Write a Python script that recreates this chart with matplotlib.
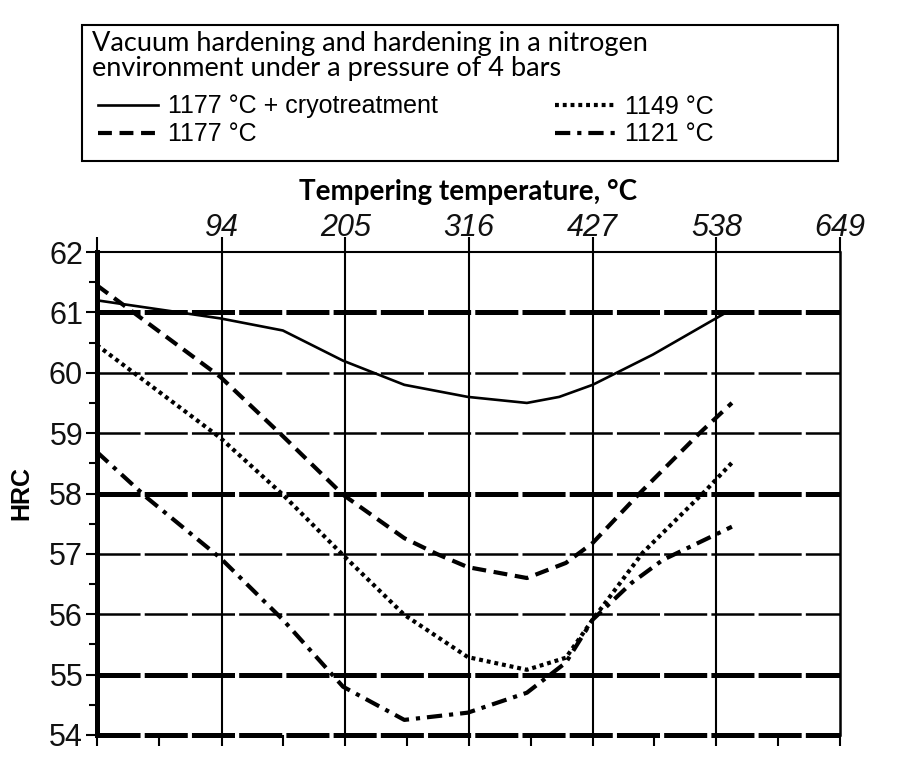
import matplotlib
matplotlib.use("Agg")
import matplotlib.pyplot as plt
from matplotlib import font_manager
from matplotlib.lines import Line2D
from matplotlib.patches import Rectangle

# data (temperature in °C, hardness in HRC)
temp_cryo = [-18, 93, 149, 203, 258, 315, 368, 397, 427, 481, 547]
hrc_cryo = [61.2, 60.9, 60.7, 60.2, 59.8, 59.6, 59.5, 59.6, 59.8, 60.3, 61.0]

temp_1177 = [-18, 93, 149, 203, 258, 287, 315, 368, 403, 427, 469, 523, 552]
hrc_1177 = [61.45, 59.93, 58.95, 57.98, 57.26, 57.0, 56.78, 56.6, 56.85, 57.18, 58.0, 59.0, 59.5]

temp_1149 = [-18, 93, 149, 203, 258, 315, 368, 403, 427, 472, 529, 552]
hrc_1149 = [60.46, 58.92, 57.98, 56.98, 55.99, 55.29, 55.08, 55.28, 55.91, 57.02, 58.06, 58.51]

temp_1121 = [-18, 27, 93, 149, 203, 258, 315, 368, 403, 427, 462, 490, 552]
hrc_1121 = [58.69, 57.93, 56.93, 55.91, 54.80, 54.25, 54.37, 54.70, 55.20, 55.91, 56.52, 56.9, 57.45]

x_ticks = [94, 205, 316, 427, 538, 649]
y_ticks = [54, 55, 56, 57, 58, 59, 60, 61, 62]
x_min = -17.8

labels = ["1177 °C + cryotreatment", "1177 °C", "1149 °C", "1121 °C"]
header = "Vacuum hardening and hardening in a nitrogen\nenvironment under a pressure of 4 bars"

names = {f.name for f in font_manager.fontManager.ttflist}
narrow = "Liberation Sans Narrow" if "Liberation Sans Narrow" in names else "Liberation Sans"

plt.rcParams["font.family"] = ["Liberation Sans", "DejaVu Sans"]
plt.rcParams["lines.scale_dashes"] = False

grid_dash = (0, (31, 3))
styles = [
    dict(color="black", lw=1.9, ls="-"),
    dict(color="black", lw=3, ls=(0, (10, 5.5))),
    dict(color="black", lw=3, ls=(0, (2.8, 2.8))),
    dict(color="black", lw=3, ls=(0, (11, 5, 3, 5))),
]

fig = plt.figure(figsize=(9, 7.63), dpi=100)
ax = fig.add_axes([97 / 900, 28 / 763, 743 / 900, 483 / 763])
ax.set_xlim(x_min, 649)
ax.set_ylim(54, 62)

# grid
for v in x_ticks[:-1]:
    ax.axvline(v, color="black", lw=1.5, zorder=1)
for h in [55, 56, 57, 58, 59, 60, 61]:
    thick = h in (55, 58, 61)
    ax.axhline(h, color="black", lw=3.6 if thick else 1.8, ls=grid_dash, zorder=1)
ax.axhline(54, color="black", lw=3.6, ls=grid_dash, zorder=3, clip_on=False)

# series
series = [(temp_cryo, hrc_cryo), (temp_1177, hrc_1177), (temp_1149, hrc_1149), (temp_1121, hrc_1121)]
handles = []
for (t, h), st, lab in zip(series, styles, labels):
    ax.plot(t, h, zorder=4, solid_joinstyle="round", dash_capstyle="butt", **st)
    handles.append(Line2D([], [], label=lab, **st))

# spines
ax.spines["bottom"].set_visible(False)
ax.spines["left"].set_linewidth(3.6)
ax.spines["top"].set_linewidth(1.5)
ax.spines["right"].set_linewidth(1.8)

# y axis
ax.set_yticks(y_ticks)
ax.set_yticks([y + 0.5 for y in y_ticks[:-1]], minor=True)
ax.tick_params(axis="y", which="major", length=8, width=1.5, labelsize=22, pad=2)
ax.tick_params(axis="y", which="minor", length=6, width=1.5)
for lab in ax.get_yticklabels():
    lab.set_color("#111111")
ax.set_ylabel("HRC", fontsize=18, fontweight="bold", labelpad=11)

# bottom ticks (no labels)
bottom_major = [x_min] + x_ticks
ax.set_xticks(bottom_major)
ax.set_xticks([(a + b) / 2 for a, b in zip(bottom_major[:-1], bottom_major[1:])], minor=True)
ax.tick_params(axis="x", which="both", length=8, width=1.5, labelbottom=False)

# top labelled axis
top = ax.secondary_xaxis("top")
top.set_xticks([x_min] + x_ticks, [""] + [str(v) for v in x_ticks])
top.tick_params(length=10.5, width=1.5, pad=-4)
top.spines["top"].set_visible(False)
for lab in top.get_xticklabels():
    lab.set_fontfamily(narrow)
    lab.set_fontstyle("italic")
    lab.set_fontsize(22)
    lab.set_color("#111111")
top.set_xlabel("Tempering temperature, °C", fontsize=20, fontweight="bold",
               fontfamily=["Lato", "DejaVu Sans"], labelpad=9)

# legend block
fig.add_artist(Rectangle((82 / 900, 1 - 161 / 763), 756 / 900, 136 / 763,
                         transform=fig.transFigure, fill=False, lw=1.5, ec="black"))
fig.text(92 / 900, 1 - 31 / 763, header, ha="left", va="top", fontsize=19.5,
         fontfamily=["Lato", "DejaVu Sans"], linespacing=0.98)
fig.legend(handles=handles, ncol=2, frameon=False, loc="upper left",
           bbox_to_anchor=(80 / 900, 1 - 77 / 763), fontsize=18,
           handlelength=2.4, handletextpad=0.4, columnspacing=4.7,
           labelspacing=0.15, borderpad=0.2)

fig.savefig("out.png", dpi=100)
